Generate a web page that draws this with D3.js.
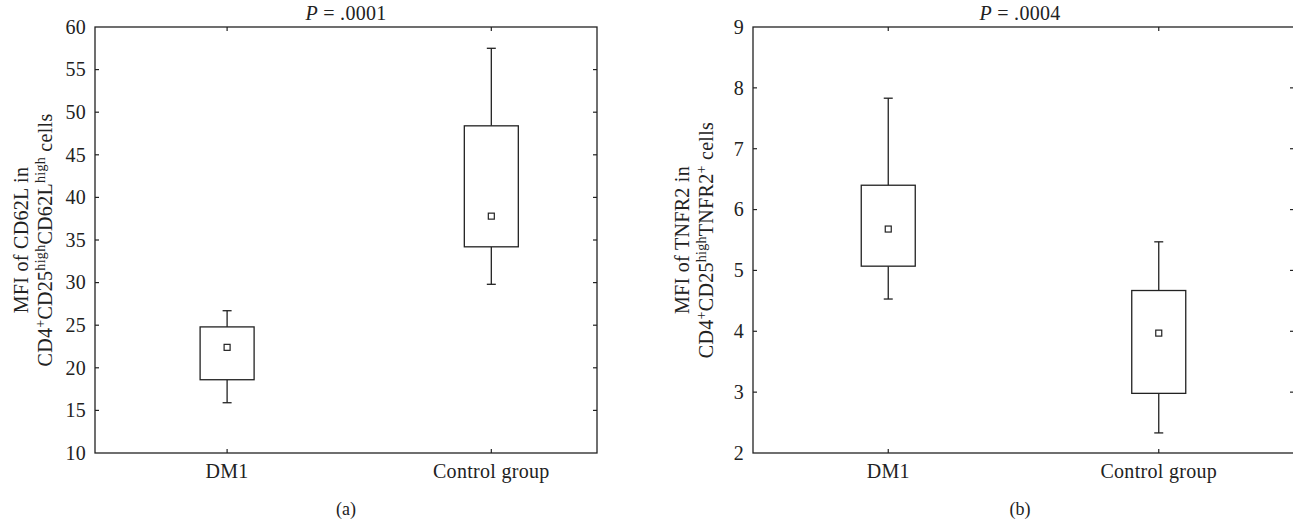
<!DOCTYPE html>
<html><head><meta charset="utf-8">
<script src="https://cdn.jsdelivr.net/npm/d3@7"></script>
<style>
body{margin:0;background:#fff;}
</style></head>
<body><svg id="c" width="1293" height="525" font-family="'Liberation Serif', 'Times New Roman', 'DejaVu Serif', serif"></svg>
<script>
const categories = ["DM1", "Control group"];
// panel (a): CD62L
const aWhiskerLow = [15.9, 29.8];
const aBoxLow = [18.6, 34.2];
const aMean = [22.4, 37.8];
const aBoxHigh = [24.8, 48.4];
const aWhiskerHigh = [26.7, 57.5];
const aTicks = [10, 15, 20, 25, 30, 35, 40, 45, 50, 55, 60];
// panel (b): TNFR2
const bWhiskerLow = [4.53, 2.33];
const bBoxLow = [5.07, 2.98];
const bMean = [5.68, 3.97];
const bBoxHigh = [6.40, 4.67];
const bWhiskerHigh = [7.83, 5.47];
const bTicks = [2, 3, 4, 5, 6, 7, 8, 9];

const svg = d3.select("#c");
const stroke = "#222";
const FS = 20;
const LS = "0.3px";

function panel(o) {
  const g = svg.append("g");
  const x = d3.scaleLinear().domain(o.xDomain).range([o.left, o.right]);
  const y = d3.scaleLinear().domain(o.yDomain).range([o.bottom, o.top]);
  g.append("rect").attr("x", o.left).attr("y", o.top)
    .attr("width", o.right - o.left).attr("height", o.bottom - o.top)
    .attr("fill", "none").attr("stroke", stroke).attr("stroke-width", 1.3);
  const tl = 4;
  o.ticks.forEach(t => {
    const yy = y(t);
    if (t !== o.yDomain[0] && t !== o.yDomain[1]) {
      g.append("line").attr("x1", o.left).attr("x2", o.left + tl).attr("y1", yy).attr("y2", yy).attr("stroke", stroke).attr("stroke-width", 1.2);
      g.append("line").attr("x1", o.right).attr("x2", o.right - tl).attr("y1", yy).attr("y2", yy).attr("stroke", stroke).attr("stroke-width", 1.2);
    }
    g.append("text").attr("x", o.left - 9).attr("y", yy).attr("dy", "0.34em")
      .attr("text-anchor", "end").attr("font-size", FS).attr("letter-spacing", LS).attr("fill", "#222").text(t);
  });
  categories.forEach((c, i) => {
    const xx = x(i);
    g.append("line").attr("x1", xx).attr("x2", xx).attr("y1", o.bottom).attr("y2", o.bottom - tl).attr("stroke", stroke).attr("stroke-width", 1.2);
    g.append("line").attr("x1", xx).attr("x2", xx).attr("y1", o.top).attr("y2", o.top + tl).attr("stroke", stroke).attr("stroke-width", 1.2);
    g.append("text").attr("x", xx).attr("y", o.bottom + 25).attr("text-anchor", "middle").attr("font-size", FS).attr("letter-spacing", LS).attr("fill", "#222").text(c);
  });
  const bw = 54, cw = 9, ms = 6;
  categories.forEach((c, i) => {
    const xx = x(i);
    g.append("line").attr("x1", xx).attr("x2", xx).attr("y1", y(o.wh[i])).attr("y2", y(o.bh[i])).attr("stroke", stroke).attr("stroke-width", 1.3);
    g.append("line").attr("x1", xx).attr("x2", xx).attr("y1", y(o.bl[i])).attr("y2", y(o.wl[i])).attr("stroke", stroke).attr("stroke-width", 1.3);
    g.append("line").attr("x1", xx - cw / 2).attr("x2", xx + cw / 2).attr("y1", y(o.wh[i])).attr("y2", y(o.wh[i])).attr("stroke", stroke).attr("stroke-width", 1.3);
    g.append("line").attr("x1", xx - cw / 2).attr("x2", xx + cw / 2).attr("y1", y(o.wl[i])).attr("y2", y(o.wl[i])).attr("stroke", stroke).attr("stroke-width", 1.3);
    g.append("rect").attr("x", xx - bw / 2).attr("y", y(o.bh[i])).attr("width", bw).attr("height", y(o.bl[i]) - y(o.bh[i]))
      .attr("fill", "#fff").attr("stroke", stroke).attr("stroke-width", 1.3);
    g.append("rect").attr("x", xx - ms / 2).attr("y", y(o.mean[i]) - ms / 2).attr("width", ms).attr("height", ms)
      .attr("fill", "#fff").attr("stroke", stroke).attr("stroke-width", 1.2);
  });
  const pt = g.append("text").attr("x", o.pX).attr("y", 20).attr("text-anchor", "middle").attr("font-size", FS).attr("letter-spacing", LS).attr("fill", "#222");
  pt.append("tspan").attr("font-style", "italic").text("P");
  pt.append("tspan").text(" = " + o.p);
  g.append("text").attr("x", o.labX).attr("y", 515).attr("text-anchor", "middle").attr("font-size", 18).attr("fill", "#222").text(o.lab);
  const ym = (o.top + o.bottom) / 2;
  o.titles.forEach((parts, k) => {
    const tx = o.titleX[k];
    const t = g.append("text").attr("transform", `translate(${tx},${ym}) rotate(-90)`)
      .attr("text-anchor", "middle").attr("font-size", FS).attr("letter-spacing", LS).attr("fill", "#222");
    parts.forEach(p => {
      const s = t.append("tspan").text(p.t);
      if (p.sup) s.attr("font-size", 14).attr("baseline-shift", "super");
    });
  });
}

panel({
  left: 95, right: 597, top: 27, bottom: 453,
  xDomain: [-0.5, 1.4], yDomain: [10, 60], ticks: aTicks,
  wl: aWhiskerLow, bl: aBoxLow, mean: aMean, bh: aBoxHigh, wh: aWhiskerHigh,
  p: ".0001", pX: 346, lab: "(a)", labX: 346,
  titleX: [28, 52],
  titles: [
    [{t: "MFI of CD62L in"}],
    [{t: "CD4"}, {t: "+", sup: true}, {t: "CD25"}, {t: "high", sup: true}, {t: "CD62L"}, {t: "high", sup: true}, {t: " cells"}]
  ]
});

panel({
  left: 753, right: 1294, top: 27, bottom: 453,
  xDomain: [-0.5, 1.5], yDomain: [2, 9], ticks: bTicks,
  wl: bWhiskerLow, bl: bBoxLow, mean: bMean, bh: bBoxHigh, wh: bWhiskerHigh,
  p: ".0004", pX: 1020, lab: "(b)", labX: 1020,
  titleX: [689, 713],
  titles: [
    [{t: "MFI of TNFR2 in"}],
    [{t: "CD4"}, {t: "+", sup: true}, {t: "CD25"}, {t: "high", sup: true}, {t: "TNFR2"}, {t: "+", sup: true}, {t: " cells"}]
  ]
});
</script></body></html>
